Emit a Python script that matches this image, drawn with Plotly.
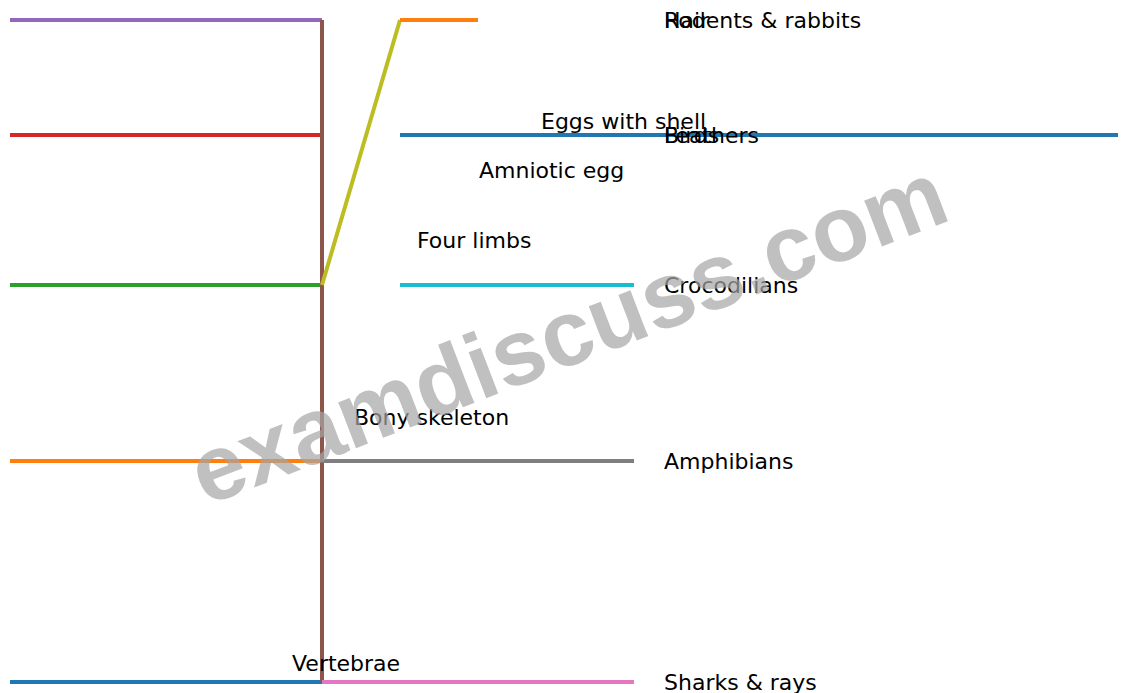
import plotly.graph_objects as go

# ---- data ----
taxa = ["Sharks & rays", "Amphibians", "Crocodilians", "Birds", "Rodents & rabbits"]
taxon_y = [0.0, 2.21, 3.97, 5.47, 6.62]
extra_labels = ["Hair", "Feathers"]
extra_y = [6.62, 5.47]

traits = ["Vertebrae", "Bony skeleton", "Four limbs", "Amniotic egg", "Eggs with shell"]
trait_x = [-0.4, 0.4, 1.2, 2.0, 2.8]
trait_y = [0.19, 2.65, 4.42, 5.12, 5.61]

# branch segments (drawn in order, matplotlib tab10 cycle)
seg_x0 = [-4, -4, -4, -4, -4, 0, 0, 0, 0, 1, 1, 1]
seg_x1 = [0, 0, 0, 0, 0, 0, 4, 4, 1, 4, 10.5, 2]
seg_y0 = [0.0, 2.21, 3.97, 5.47, 6.62, 0.0, 0.0, 2.21, 3.97, 3.97, 5.47, 6.62]
seg_y1 = [0.0, 2.21, 3.97, 5.47, 6.62, 6.62, 0.0, 2.21, 6.62, 3.97, 5.47, 6.62]

tab10 = ["#1f77b4", "#ff7f0e", "#2ca02c", "#d62728", "#9467bd",
         "#8c564b", "#e377c2", "#7f7f7f", "#bcbd22", "#17becf"]

fig = go.Figure()
for i in range(len(seg_x0)):
    fig.add_trace(go.Scatter(
        x=[seg_x0[i], seg_x1[i]], y=[seg_y0[i], seg_y1[i]],
        mode="lines", line=dict(color=tab10[i % 10], width=4),
        showlegend=False, hoverinfo="skip"))

font = dict(family="DejaVu Sans", size=22, color="black")
for name, y in zip(taxa, taxon_y):
    fig.add_annotation(x=4.37, y=y, text=name, showarrow=False,
                       xanchor="left", yanchor="middle", font=font, borderpad=0)
for name, y in zip(extra_labels, extra_y):
    fig.add_annotation(x=4.37, y=y, text=name, showarrow=False,
                       xanchor="left", yanchor="middle", font=font, borderpad=0)
for name, x, y in zip(traits, trait_x, trait_y):
    fig.add_annotation(x=x, y=y, text=name, showarrow=False,
                       xanchor="left", yanchor="middle", font=font, borderpad=0)

# watermark
fig.add_annotation(xref="paper", yref="paper", x=0.500, y=0.526,
                   text="<b>examdiscuss.com</b>", showarrow=False,
                   textangle=-21, xanchor="center", yanchor="middle",
                   font=dict(family="Liberation Sans", size=93,
                             color="rgba(165,165,165,0.7)"))

# page body has an 8px margin: figure fills the rest of the window
fig.update_xaxes(visible=False, range=[-4.0256, 10.3077])
fig.update_yaxes(visible=False, range=[-0.11, 6.74])
fig.update_layout(width=1118, height=685,
                  margin=dict(l=0, r=0, t=0, b=0, pad=0),
                  plot_bgcolor="white", paper_bgcolor="white")

fig.write_html("out.html")
